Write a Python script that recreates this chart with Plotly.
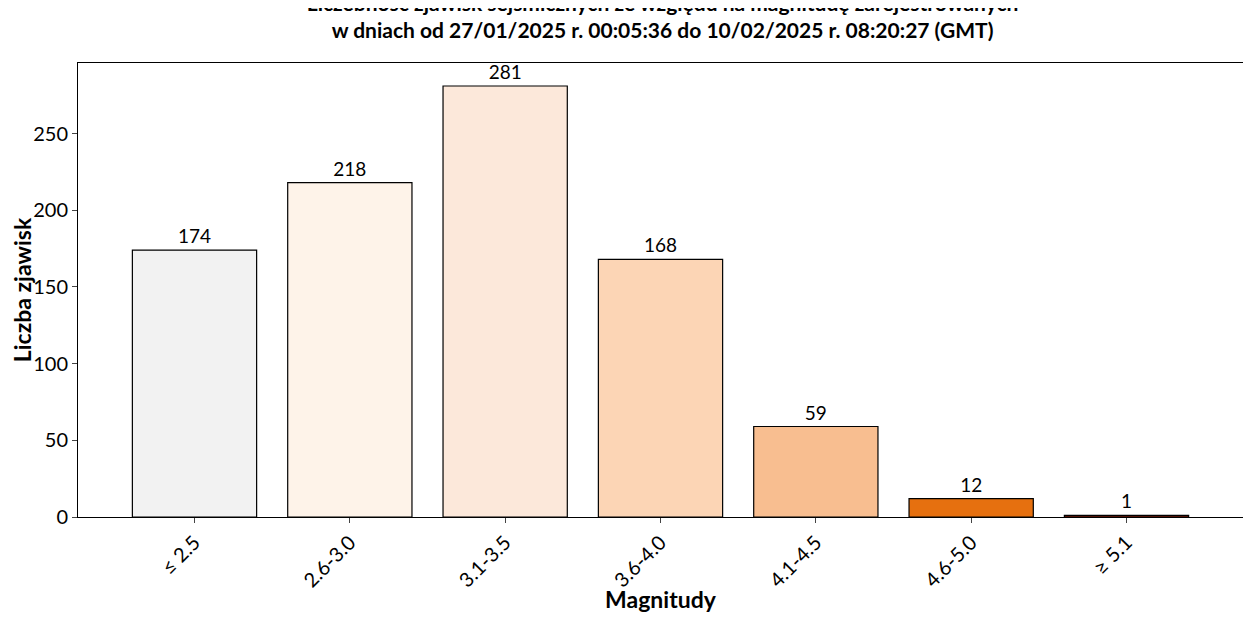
import plotly.graph_objects as go

categories = ["≤ 2.5", "2.6-3.0", "3.1-3.5", "3.6-4.0", "4.1-4.5", "4.6-5.0", "≥ 5.1"]
counts = [174, 218, 281, 168, 59, 12, 1]
colors = ["#f2f2f2", "#fef3e9", "#fce8da", "#fcd5b5", "#f8be90", "#e6700f", "#a3220a"]

fig = go.Figure(go.Bar(
    x=list(range(len(categories))), y=counts, width=0.8,
    marker=dict(color=colors, line=dict(color="black", width=1.2)),
    text=[str(c) for c in counts], textposition="outside", cliponaxis=False,
    textfont=dict(size=19, color="black"),
))
fig.update_layout(
    width=1235, height=605, plot_bgcolor="white", paper_bgcolor="white",
    font=dict(family="Lato", size=19, color="black"),
    margin=dict(l=70, r=0, t=55, b=96),
    title=dict(text="<b>Liczebność zjawisk sejsmicznych ze względu na magnitudę zarejestrowanych<br>w dniach od 27/01/2025 r. 00:05:36 do 10/02/2025 r. 08:20:27 (GMT)</b>",
               x=0.53, xanchor="center", y=0.995, yanchor="top", font=dict(size=21)),
    showlegend=False,
)
fig.update_xaxes(tickmode="array", tickvals=list(range(len(categories))), ticktext=categories,
                 tickangle=-45, range=[-0.75, 6.75], showline=True, mirror=True, linecolor="black",
                 ticks="outside", showgrid=False, tickfont=dict(size=20),
                 title=dict(text="<b>Magnitudy</b>", standoff=2))
fig.update_yaxes(range=[0, 296], showline=True, mirror=True, linecolor="black", ticks="outside",
                 showgrid=False, dtick=50, tickfont=dict(size=20),
                 title=dict(text="<b>Liczba zjawisk</b>", standoff=8))
fig.write_html("out.html")
